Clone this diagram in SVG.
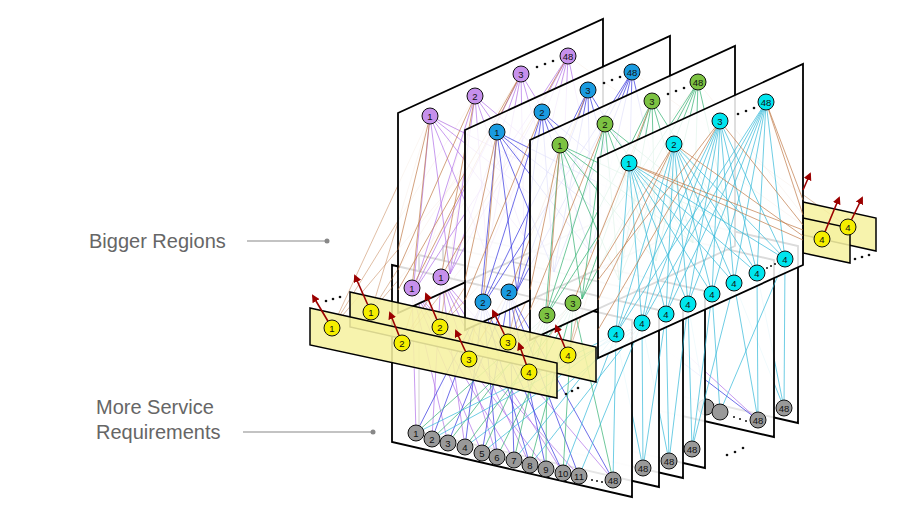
<svg xmlns="http://www.w3.org/2000/svg" width="915" height="515" viewBox="0 0 915 515">
<defs>
<marker id="ah" markerWidth="8" markerHeight="8" refX="6" refY="4" orient="auto" markerUnits="userSpaceOnUse"><path d="M0,0L8,4L0,8z" fill="#9b0000"/></marker>
<style>
.pan{fill:#fff;fill-opacity:.86;stroke:#000;stroke-width:1.8}
.low{fill:#fff;fill-opacity:.9;stroke:#000;stroke-width:1.8}
.yel{fill:#f6f1a2;fill-opacity:.88;stroke:#000;stroke-width:1.5}
.nd{stroke:#111;stroke-width:1}
.t{font-family:"Liberation Sans",Arial,sans-serif;font-size:9.5px;fill:#111;text-anchor:middle}
.lbl{font-family:"Liberation Sans",Arial,sans-serif;font-size:20px;fill:#666}
.f{fill:none;stroke-width:.7}
.pu{stroke:#b070e8}.bl{stroke:#3030e0}.gr{stroke:#30b070}.cy{stroke:#30b8d8}.br{stroke:#c07a48}
.arr{stroke:#9b0000;stroke-width:1.6;fill:none;marker-end:url(#ah)}
.dot{fill:#111}
</style>
</defs>
<g id="labels">
<text class="lbl" x="89" y="248">Bigger Regions</text>
<line x1="247" y1="241" x2="327" y2="241" stroke="#888" stroke-width="1.2"/><circle cx="327" cy="241" r="2.5" fill="#888"/>
<text class="lbl" x="96" y="414">More Service</text>
<text class="lbl" x="96" y="439">Requirements</text>
<line x1="243" y1="432" x2="373" y2="432" stroke="#888" stroke-width="1.2"/><circle cx="373" cy="432" r="2.5" fill="#888"/>
</g>
<g id="lower-panels">
<g id="low5"><polygon class="low" points="558,191 798,246 798,423 558,368"/>
<path class="f cy" d="M785,259L784,408M757,273L784,408M734,283L784,408"/><circle class="nd" cx="784" cy="408" r="8" fill="#999"/><text class="t" x="784" y="411.5">48</text></g>
<g id="low4"><polygon class="low" points="534,205 774,260 774,437 534,382"/>
<path class="f cy" d="M757,273L758,420M734,283L758,420M712,294L720,412M688,304L706,408M785,259L720,412"/><path class="f bl" d="M640,330L758,420"/><path class="f pu" d="M660,330L758,420"/>
<circle class="nd" cx="706" cy="407" r="8" fill="#999"/><circle class="nd" cx="720" cy="412" r="8" fill="#999"/>
<circle class="dot" cx="734" cy="417" r="1"/><circle class="dot" cx="740" cy="419" r="1"/><circle class="dot" cx="746" cy="421" r="1"/>
<circle class="nd" cx="758" cy="420" r="8" fill="#999"/><text class="t" x="758" y="423.5">48</text></g>
<g id="low3"><polygon class="low" points="465,236 705,291 705,468 465,413"/>
<path class="f cy" d="M734,283L692,449M712,294L692,449M688,304L692,449"/><circle class="nd" cx="692" cy="449" r="8" fill="#999"/><text class="t" x="692" y="452.5">48</text></g>
<g id="low2"><polygon class="low" points="443,246 683,301 683,478 443,423"/>
<path class="f cy" d="M688,304L669,461M666,314L669,461M642,323L669,461"/><circle class="nd" cx="669" cy="461" r="8" fill="#999"/><text class="t" x="669" y="464.5">48</text></g>
<g id="low1"><polygon class="low" points="419,255 659,310 659,487 419,432"/>
<path class="f cy" d="M666,314L643,468M642,323L643,468M616,334L643,468"/><circle class="nd" cx="643" cy="468" r="8" fill="#999"/><text class="t" x="643" y="471.5">48</text></g>
<g id="low0"><polygon class="low" points="392,265 632,320 632,497 392,442"/>
<path class="f pu" d="M412,288L416,433M412,288L448,443M412,288L482,453M412,288L514,460M412,288L546,469M412,288L579,476M441,277L432,439M441,277L465,447M441,277L497,457M441,277L530,465M441,277L563,473M441,277L613,480"/>
<path class="f bl" d="M483,302L416,433M483,302L432,439M483,302L465,447M483,302L497,457M483,302L530,465M483,302L563,473M509,292L448,443M509,292L482,453M509,292L514,460M509,292L546,469M509,292L579,476M509,292L613,480"/>
<path class="f gr" d="M547,315L416,433M547,315L448,443M547,315L482,453M547,315L514,460M547,315L546,469M573,303L432,439M573,303L465,447M573,303L497,457M573,303L530,465M573,303L563,473M573,303L613,480"/>
<path class="f cy" d="M616,334L416,433M616,334L465,447M616,334L514,460M616,334L563,473M616,334L613,480M642,323L432,439M642,323L482,453M642,323L530,465M642,323L579,476"/>
<g fill="#999">
<circle class="nd" cx="416" cy="433" r="8"/><circle class="nd" cx="432" cy="439" r="8"/><circle class="nd" cx="448" cy="443" r="8"/><circle class="nd" cx="465" cy="447" r="8"/><circle class="nd" cx="482" cy="453" r="8"/><circle class="nd" cx="497" cy="457" r="8"/><circle class="nd" cx="514" cy="460" r="8"/><circle class="nd" cx="530" cy="465" r="8"/><circle class="nd" cx="546" cy="469" r="8"/><circle class="nd" cx="563" cy="473" r="8"/><circle class="nd" cx="579" cy="476" r="8"/><circle class="nd" cx="613" cy="480" r="8"/></g>
<text class="t" x="416" y="436.5">1</text><text class="t" x="432" y="442.5">2</text><text class="t" x="448" y="446.5">3</text><text class="t" x="465" y="450.5">4</text><text class="t" x="482" y="456.5">5</text><text class="t" x="497" y="460.5">6</text><text class="t" x="514" y="463.5">7</text><text class="t" x="530" y="468.5">8</text><text class="t" x="546" y="472.5">9</text><text class="t" x="563" y="476.5">10</text><text class="t" x="579" y="479.5">11</text><text class="t" x="613" y="483.5">48</text>
<circle class="dot" cx="592" cy="480" r="1"/><circle class="dot" cx="597" cy="481" r="1"/><circle class="dot" cx="602" cy="482" r="1"/>
</g>
<circle class="dot" cx="727" cy="455" r="1.3"/><circle class="dot" cx="735" cy="452" r="1.3"/><circle class="dot" cx="743" cy="448" r="1.3"/>
</g>
<g id="connectors-brown">
<path class="f br" opacity=".7" d="M430,116L332,328M430,116L371,312M475,96L402,343M475,96L440,327M521,74L469,359M568,56L508,342M497,132L332,328M542,112L371,312M588,90L529,372M632,72L568,355M560,145L402,343M605,124L469,359M652,101L440,327M698,82L508,342M568,56L822,239M632,72L848,227M698,82L822,239M430,116L620,210M475,96L332,328M521,74L371,312M542,112L402,343M588,90L440,327M605,124L508,342M652,101L568,355M698,82L529,372M632,72L469,359"/>
</g>
<g id="panel1"><polygon class="pan" points="398,113 603,19 603,219 398,313"/>
<path class="f pu" d="M430,116L413,293M430,116L450,274M430,116L487,255M430,116L524,236M430,116L561,218M430,116L598,199M475,96L413,293M475,96L450,274M475,96L487,255M475,96L524,236M475,96L561,218M475,96L598,199M521,74L413,293M521,74L450,274M521,74L487,255M521,74L524,236M521,74L561,218M521,74L598,199M568,56L413,293M568,56L450,274M568,56L487,255M568,56L524,236M568,56L561,218M568,56L598,199"/>
<path class="f br" d="M430,116L412,288M475,96L441,277M521,74L412,288M568,56L441,277M430,116L398,250M475,96L398,270M521,74L398,290"/>
<g fill="#c690ec"><circle class="nd" cx="430" cy="116" r="8"/><circle class="nd" cx="475" cy="96" r="8"/><circle class="nd" cx="521" cy="74" r="8"/><circle class="nd" cx="568" cy="56" r="8"/><circle class="nd" cx="412" cy="288" r="8"/><circle class="nd" cx="441" cy="277" r="8"/></g>
<text class="t" x="430" y="119.5">1</text><text class="t" x="475" y="99.5">2</text><text class="t" x="521" y="77.5">3</text><text class="t" x="568" y="59.5">48</text><text class="t" x="412" y="291.5">1</text><text class="t" x="441" y="280.5">1</text>
<circle class="dot" cx="537" cy="67" r="1.3"/><circle class="dot" cx="545" cy="64" r="1.3"/><circle class="dot" cx="553" cy="61" r="1.3"/>
</g>
<g id="panel2"><polygon class="pan" points="465,130 670,36 670,236 465,330"/>
<path class="f bl" d="M497,132L480,310M497,132L517,291M497,132L554,272M497,132L591,253M497,132L628,235M497,132L665,216M542,112L480,310M542,112L517,291M542,112L554,272M542,112L591,253M542,112L628,235M542,112L665,216M588,90L480,310M588,90L517,291M588,90L554,272M588,90L591,253M588,90L628,235M588,90L665,216M632,72L480,310M632,72L517,291M632,72L554,272M632,72L591,253M632,72L628,235M632,72L665,216"/>
<path class="f br" d="M497,132L483,302M588,90L509,292M497,132L465,280M542,112L465,300"/>
<g fill="#1a9be0"><circle class="nd" cx="497" cy="132" r="8"/><circle class="nd" cx="542" cy="112" r="8"/><circle class="nd" cx="588" cy="90" r="8"/><circle class="nd" cx="632" cy="72" r="8"/><circle class="nd" cx="483" cy="302" r="8"/><circle class="nd" cx="509" cy="292" r="8"/></g>
<text class="t" x="497" y="135.5">1</text><text class="t" x="542" y="115.5">2</text><text class="t" x="588" y="93.5">3</text><text class="t" x="632" y="75.5">48</text><text class="t" x="483" y="305.5">2</text><text class="t" x="509" y="295.5">2</text>
<circle class="dot" cx="604" cy="83" r="1.3"/><circle class="dot" cx="612" cy="80" r="1.3"/><circle class="dot" cx="620" cy="77" r="1.3"/>
</g>
<g id="panel3"><polygon class="pan" points="530,140 735,46 735,246 530,340"/>
<path class="f gr" d="M560,145L545,318M560,145L582,299M560,145L619,280M560,145L656,261M560,145L693,243M560,145L730,224M605,124L545,318M605,124L582,299M605,124L619,280M605,124L656,261M605,124L693,243M605,124L730,224M652,101L545,318M652,101L582,299M652,101L619,280M652,101L656,261M652,101L693,243M652,101L730,224M698,82L545,318M698,82L582,299M698,82L619,280M698,82L656,261M698,82L693,243M698,82L730,224"/>
<path class="f br" d="M560,145L547,315M652,101L573,303M560,145L530,290M605,124L530,310"/>
<g fill="#7cc242"><circle class="nd" cx="560" cy="145" r="8"/><circle class="nd" cx="605" cy="124" r="8"/><circle class="nd" cx="652" cy="101" r="8"/><circle class="nd" cx="698" cy="82" r="8"/><circle class="nd" cx="547" cy="315" r="8"/><circle class="nd" cx="573" cy="303" r="8"/></g>
<text class="t" x="560" y="148.5">1</text><text class="t" x="605" y="127.5">2</text><text class="t" x="652" y="104.5">3</text><text class="t" x="698" y="85.5">48</text><text class="t" x="547" y="318.5">3</text><text class="t" x="573" y="306.5">3</text>
<circle class="dot" cx="668" cy="94" r="1.3"/><circle class="dot" cx="676" cy="91" r="1.3"/><circle class="dot" cx="684" cy="88" r="1.3"/>
</g>
<g id="right-yellow">
<polygon class="yel" points="803,202 876,218 876,251 803,235"/>
<polygon class="yel" points="803,218 850,228 850,263 803,253"/>
<line class="arr" x1="822" y1="239" x2="839" y2="198"/><line class="arr" x1="848" y1="227" x2="862" y2="198"/>
<circle class="nd" cx="848" cy="227" r="8" fill="#f5ee00"/><text class="t" x="848" y="230.5">4</text>
<circle class="nd" cx="822" cy="239" r="8" fill="#f5ee00"/><text class="t" x="822" y="242.5">4</text>
<circle class="dot" cx="855" cy="259" r="1.3"/><circle class="dot" cx="862" cy="257" r="1.3"/><circle class="dot" cx="869" cy="255" r="1.3"/>
</g>
<g id="panel4"><polygon class="pan" points="598,158 803,64 803,265 598,358"/>
<path class="f cy" d="M629,163L616,334M629,163L642,323M629,163L666,314M629,163L688,304M629,163L712,294M629,163L734,283M629,163L757,273M629,163L785,259M674,144L616,334M674,144L642,323M674,144L666,314M674,144L688,304M674,144L712,294M674,144L734,283M674,144L757,273M674,144L785,259M720,121L616,334M720,121L642,323M720,121L666,314M720,121L688,304M720,121L712,294M720,121L734,283M720,121L757,273M720,121L785,259M766,102L616,334M766,102L642,323M766,102L666,314M766,102L688,304M766,102L712,294M766,102L734,283M766,102L757,273M766,102L785,259"/>
<path class="f br" d="M629,163L803,230M629,163L803,240M674,144L803,236M720,121L803,225M766,102L803,200M766,102L803,215M674,144L598,300M720,121L598,330M629,163L598,240M674,144L598,270M720,121L598,280"/>
<g fill="#00e5ee"><circle class="nd" cx="629" cy="163" r="8"/><circle class="nd" cx="674" cy="144" r="8"/><circle class="nd" cx="720" cy="121" r="8"/><circle class="nd" cx="766" cy="102" r="8"/>
<circle class="nd" cx="616" cy="334" r="8"/><circle class="nd" cx="642" cy="323" r="8"/><circle class="nd" cx="666" cy="314" r="8"/><circle class="nd" cx="688" cy="304" r="8"/><circle class="nd" cx="712" cy="294" r="8"/><circle class="nd" cx="734" cy="283" r="8"/><circle class="nd" cx="757" cy="273" r="8"/><circle class="nd" cx="785" cy="259" r="8"/></g>
<text class="t" x="629" y="166.5">1</text><text class="t" x="674" y="147.5">2</text><text class="t" x="720" y="124.5">3</text><text class="t" x="766" y="105.5">48</text>
<text class="t" x="616" y="337.5">4</text><text class="t" x="642" y="326.5">4</text><text class="t" x="666" y="317.5">4</text><text class="t" x="688" y="307.5">4</text><text class="t" x="712" y="297.5">4</text><text class="t" x="734" y="286.5">4</text><text class="t" x="757" y="276.5">4</text><text class="t" x="785" y="262.5">4</text>
<circle class="dot" cx="738" cy="114" r="1.3"/><circle class="dot" cx="746" cy="111" r="1.3"/><circle class="dot" cx="754" cy="108" r="1.3"/>
<circle class="dot" cx="767" cy="268" r="1"/><circle class="dot" cx="771" cy="266" r="1"/><circle class="dot" cx="775" cy="264" r="1"/>
<line class="arr" x1="803" y1="190" x2="810" y2="174"/>
</g>
<g id="front-yellow">
<polygon class="yel" points="350,292 596,347 596,382 350,327"/>
<polygon class="yel" points="310,308 557,363 557,398 310,345"/>
<line class="arr" x1="332" y1="328" x2="313" y2="296"/><line class="arr" x1="371" y1="312" x2="355" y2="276"/>
<line class="arr" x1="402" y1="343" x2="390" y2="313"/><line class="arr" x1="440" y1="327" x2="426" y2="294"/>
<line class="arr" x1="469" y1="359" x2="456" y2="331"/><line class="arr" x1="508" y1="342" x2="493" y2="311"/>
<line class="arr" x1="529" y1="372" x2="519" y2="344"/><line class="arr" x1="568" y1="355" x2="556" y2="326"/>
<g fill="#f5ee00">
<circle class="nd" cx="371" cy="312" r="8"/><circle class="nd" cx="440" cy="327" r="8"/><circle class="nd" cx="508" cy="342" r="8"/><circle class="nd" cx="568" cy="355" r="8"/>
<circle class="nd" cx="332" cy="328" r="8"/><circle class="nd" cx="402" cy="343" r="8"/><circle class="nd" cx="469" cy="359" r="8"/><circle class="nd" cx="529" cy="372" r="8"/></g>
<text class="t" x="371" y="315.5">1</text><text class="t" x="440" y="330.5">2</text><text class="t" x="508" y="345.5">3</text><text class="t" x="568" y="358.5">4</text>
<text class="t" x="332" y="331.5">1</text><text class="t" x="402" y="346.5">2</text><text class="t" x="469" y="362.5">3</text><text class="t" x="529" y="375.5">4</text>
<circle class="dot" cx="326" cy="301" r="1.3"/><circle class="dot" cx="333" cy="299" r="1.3"/><circle class="dot" cx="340" cy="297" r="1.3"/>
<circle class="dot" cx="566" cy="394" r="1.3"/><circle class="dot" cx="572" cy="391" r="1.3"/><circle class="dot" cx="578" cy="388" r="1.3"/>
</g>
</svg>
